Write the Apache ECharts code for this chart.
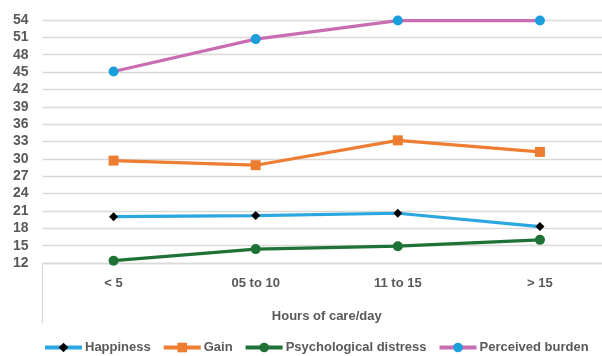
<!DOCTYPE html>
<html>
<head>
<meta charset="utf-8">
<script src="https://cdn.jsdelivr.net/npm/echarts@6/dist/echarts.min.js"></script>
<style>
  html, body { margin: 0; padding: 0; background: #ffffff; }
  #chart { width: 602px; height: 356px; }
</style>
</head>
<body>
<div id="chart"></div>
<script>
// Hours of care per day (category axis)
const categories = ['< 5', '05 to 10', '11 to 15', '> 15'];

// Scores per group
const happiness = [20.0, 20.2, 20.6, 18.3];
const gain = [29.7, 28.9, 33.2, 31.2];
const psychologicalDistress = [12.4, 14.4, 14.9, 16.0];
const perceivedBurden = [45.1, 50.7, 53.9, 53.9];

// Value axis range
const yMin = 12;
const yMax = 54;
const yStep = 3;

const textGrey = '#595959';
const gridGrey = '#d9d9d9';
const font = '"Liberation Sans", Arial, sans-serif';

const chart = echarts.init(document.getElementById('chart'), null, { renderer: 'canvas' });

// Plot area runs slightly past the right edge of the canvas
const plotLeft = 42.5;
const plotWidth = 568.5;
const plotTop = 20;
const plotHeight = 243;

function lineSeries(name, data, lineColor, symbol, symbolSize, markerColor) {
  return {
    name: name,
    type: 'line',
    data: data,
    symbol: symbol,
    symbolSize: symbolSize,
    showAllSymbol: true,
    lineStyle: { color: lineColor, width: 3.2 },
    itemStyle: { color: markerColor, borderWidth: 0 },
    emphasis: { disabled: true },
    animation: false
  };
}

chart.setOption({
  animation: false,
  backgroundColor: '#ffffff',
  textStyle: { fontFamily: font },
  grid: {
    left: plotLeft,
    top: plotTop,
    width: plotWidth,
    height: plotHeight,
    containLabel: false,
    outerBoundsMode: 'none'
  },
  legend: {
    left: 43,
    top: 341,
    padding: 0,
    itemWidth: 37,
    itemHeight: 12,
    itemGap: 11,
    lineStyle: { width: 4 },
    textStyle: { color: textGrey, fontSize: 13, fontWeight: 'bold', fontFamily: font, padding: [0, 0, 0, -2] },
    data: ['Happiness', 'Gain', 'Psychological distress', 'Perceived burden']
  },
  xAxis: {
    type: 'category',
    data: categories,
    boundaryGap: true,
    name: 'Hours of care/day',
    nameLocation: 'middle',
    nameGap: 47,
    nameTextStyle: { color: textGrey, fontSize: 13, fontWeight: 'bold', fontFamily: font },
    axisLine: { show: true, lineStyle: { color: gridGrey, width: 1.3 } },
    axisTick: { show: false },
    axisLabel: { color: textGrey, fontSize: 13, fontWeight: 'bold', fontFamily: font, margin: 14 },
    splitLine: { show: false }
  },
  yAxis: {
    type: 'value',
    min: yMin,
    max: yMax,
    interval: yStep,
    axisLine: { show: false },
    axisTick: { show: false },
    axisLabel: { color: textGrey, fontSize: 14, fontWeight: 'bold', fontFamily: font, margin: 14 },
    splitLine: { show: true, lineStyle: { color: gridGrey, width: 1.3 } }
  },
  graphic: [{
    type: 'line',
    shape: { x1: plotLeft, y1: plotTop + plotHeight, x2: plotLeft, y2: 323 },
    style: { stroke: gridGrey, lineWidth: 1.3 },
    silent: true
  }],
  series: [
    lineSeries('Happiness', happiness, '#2aa7e0', 'diamond', 9, '#000000'),
    lineSeries('Gain', gain, '#ed7d31', 'rect', 10, '#ed7d31'),
    lineSeries('Psychological distress', psychologicalDistress, '#1f7235', 'circle', 10, '#1f7235'),
    lineSeries('Perceived burden', perceivedBurden, '#c96db2', 'circle', 10, '#1b9fda')
  ]
});
</script>
</body>
</html>
